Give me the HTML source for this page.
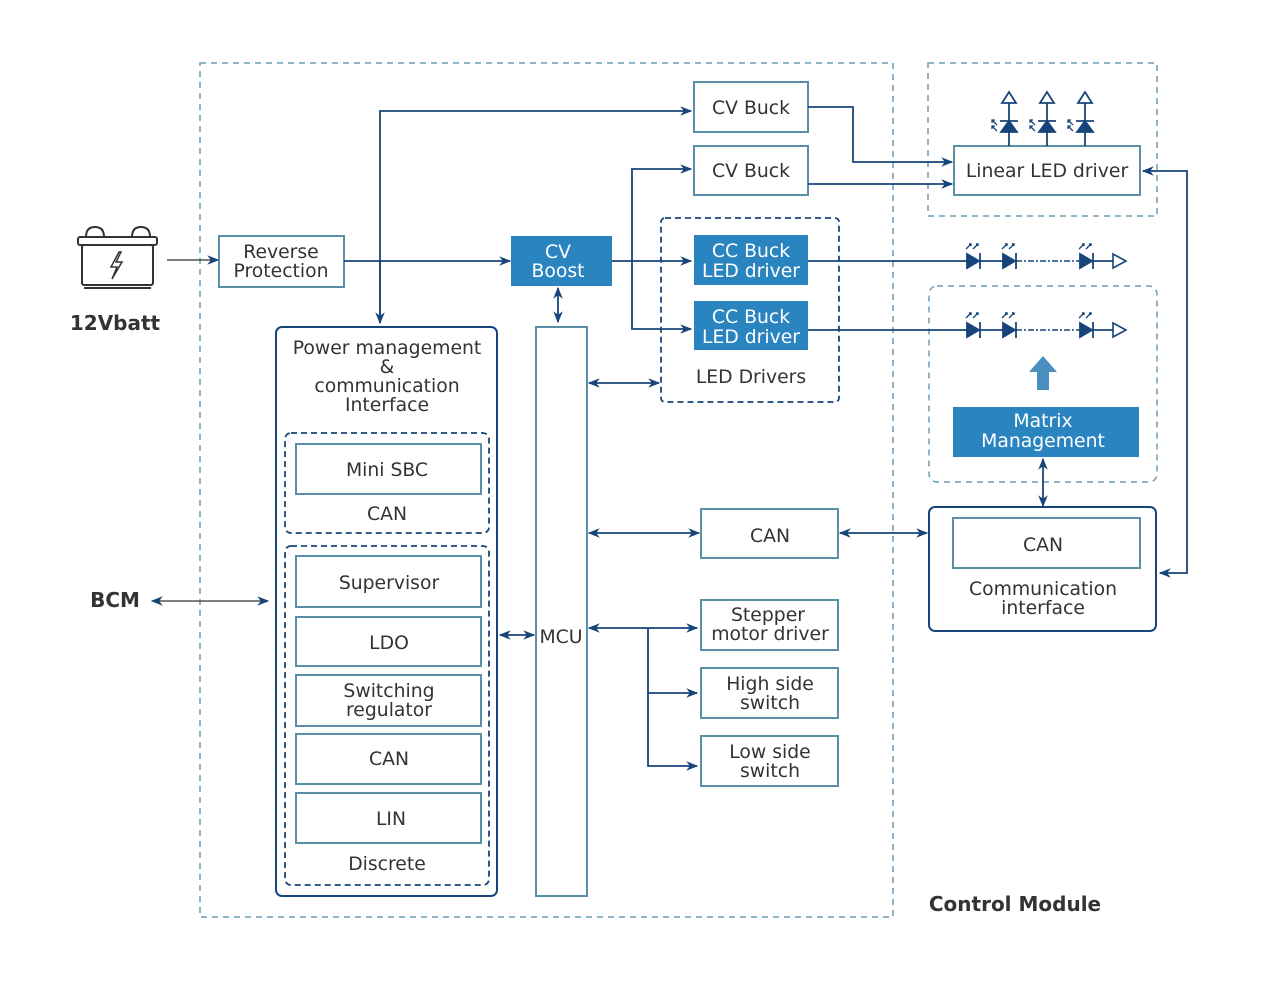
<!DOCTYPE html>
<html><head><meta charset="utf-8"><style>
html,body{margin:0;padding:0;background:#fff;}
svg text{font-family:"DejaVu Sans","Liberation Sans",sans-serif;fill:#333;font-size:18.8px;text-anchor:middle;}
</style></head><body>
<svg width="1266" height="979" viewBox="0 0 1266 979" xmlns="http://www.w3.org/2000/svg">
<defs>
<marker id="a" viewBox="0 0 10 10" refX="9" refY="5" markerWidth="12" markerHeight="12" orient="auto-start-reverse" markerUnits="userSpaceOnUse"><path d="M0,1 L10,5 L0,9 L3,5 Z" fill="#17457a"/></marker>
</defs>
<g fill="none" stroke="#6e9cb5" stroke-width="1.5" stroke-dasharray="6,5">
<rect x="200" y="63" width="693" height="854"/>
<rect x="928" y="63" width="229" height="153"/>
<rect x="929" y="286" width="228" height="196" rx="8"/>
</g>
<g fill="none" stroke="#17457a" stroke-width="1.8" stroke-dasharray="6,4">
<rect x="661" y="218" width="178" height="184" rx="4"/>
<rect x="285" y="433" width="204" height="100" rx="6"/>
<rect x="285" y="546" width="204" height="339" rx="6"/>
</g>
<g fill="#fff" stroke="#5b8fa8" stroke-width="2">
<rect x="694" y="82" width="114" height="50"/>
<rect x="694" y="146" width="114" height="49"/>
<rect x="954" y="146" width="186" height="49"/>
<rect x="219" y="236" width="125" height="51"/>
<rect x="536" y="327" width="51" height="569"/>
<rect x="296" y="444" width="185" height="50"/>
<rect x="296" y="556" width="185" height="51"/>
<rect x="296" y="617" width="185" height="49"/>
<rect x="296" y="675" width="185" height="51"/>
<rect x="296" y="734" width="185" height="50"/>
<rect x="296" y="793" width="185" height="50"/>
<rect x="701" y="509" width="137" height="49"/>
<rect x="953" y="518" width="187" height="50"/>
<rect x="701" y="600" width="137" height="50"/>
<rect x="701" y="668" width="137" height="50"/>
<rect x="701" y="736" width="137" height="50"/>
</g>
<g fill="none" stroke="#17457a" stroke-width="2">
<rect x="276" y="327" width="221" height="569" rx="6"/>
<rect x="929" y="507" width="227" height="124" rx="6"/>
</g>
<g fill="#2a84c0">
<rect x="511" y="236" width="101" height="50"/>
<rect x="694" y="235" width="114" height="50"/>
<rect x="694" y="301" width="114" height="49"/>
<rect x="953" y="407" width="186" height="50"/>
<path d="M1037,390 V372 H1029 L1043,356 L1057,372 H1049 V390 Z" fill="#4a8fbf"/>
</g>
<g fill="none" stroke="#17457a" stroke-width="1.8">
<path d="M167,260 H218" stroke="#333" stroke-width="1.3" marker-end="url(#a)"/>
<path d="M344,261 H510" marker-end="url(#a)"/>
<path d="M380,320 V111 H691" marker-end="url(#a)"/>
<path d="M380,260 V323" marker-end="url(#a)"/>
<path d="M808,107 H853 V162 H952" marker-end="url(#a)"/>
<path d="M808,184 H952" marker-end="url(#a)"/>
<path d="M612,261 H691" marker-end="url(#a)"/>
<path d="M691,169 H632 V329 H691" marker-start="url(#a)" marker-end="url(#a)"/>
<path d="M558,288 V322" marker-start="url(#a)" marker-end="url(#a)"/>
<path d="M589,383 H659" marker-start="url(#a)" marker-end="url(#a)"/>
<path d="M808,261 H1113"/>
<path d="M808,330 H1113"/>
<path d="M1143,171 H1187 V573 H1160" marker-start="url(#a)" marker-end="url(#a)"/>
<path d="M1043,459 V506" marker-start="url(#a)" marker-end="url(#a)"/>
<path d="M589,533 H699" marker-start="url(#a)" marker-end="url(#a)"/>
<path d="M840,533 H927" marker-start="url(#a)" marker-end="url(#a)"/>
<path d="M500,635 H534" marker-start="url(#a)" marker-end="url(#a)"/>
<path d="M152,601 H268" stroke="#333" stroke-width="1.3" marker-start="url(#a)" marker-end="url(#a)"/>
<path d="M589,628 H697" marker-start="url(#a)" marker-end="url(#a)"/>
<path d="M648,628 V766 H697" marker-end="url(#a)"/>
<path d="M648,693 H697" marker-end="url(#a)"/>
</g>
<g id="chain">
<rect x="1016" y="259" width="64" height="4" fill="#fff"/>
<path d="M1016,261 H1080" stroke="#17457a" stroke-width="1.6" stroke-dasharray="6,2,2,2"/>
<g fill="#17457a" stroke="#17457a" stroke-width="1.8">
<path d="M967,254 L979,261 L967,268 Z"/><path d="M980,253 V269"/>
<path d="M1003,254 L1015,261 L1003,268 Z"/><path d="M1016,253 V269"/>
<path d="M1080,254 L1092,261 L1080,268 Z"/><path d="M1093,253 V269"/>
</g>
<path d="M1113,254 L1126,261 L1113,268 Z" fill="#fff" stroke="#17457a" stroke-width="1.6"/>
<g stroke="#17457a" stroke-width="1.4" fill="none">
<path d="M966,249 L971,244 M969,244 H971 V246 M973,249 L978,244 M976,244 H978 V246"/>
<path d="M1002,249 L1007,244 M1005,244 H1007 V246 M1009,249 L1014,244 M1012,244 H1014 V246"/>
<path d="M1079,249 L1084,244 M1082,244 H1084 V246 M1086,249 L1091,244 M1089,244 H1091 V246"/>
</g>
</g>
<use href="#chain" transform="translate(0,69)"/>
<g id="ld" stroke="#17457a" stroke-width="1.8">
<path d="M1009,146 V103" fill="none"/>
<path d="M1002,103 L1009,92 L1016,103 Z" fill="#fff"/>
<path d="M1001,132 L1009,121 L1017,132 Z" fill="#17457a"/>
<path d="M1000,121 H1018" fill="none"/>
<path d="M997,125 L992,120 M992,123 V120 H995 M997,131 L992,126 M992,129 V126 H995" fill="none" stroke-width="1.3"/>
</g>
<use href="#ld" transform="translate(38,0)"/>
<use href="#ld" transform="translate(76,0)"/>
<g fill="none" stroke="#333" stroke-width="2">
<rect x="82" y="245" width="71" height="40" rx="2"/>
<rect x="78" y="237" width="79" height="8" rx="2"/>
<path d="M86,237 Q86,227 95,227 Q104,227 104,237 M132,237 Q132,227 141,227 Q150,227 150,237"/>
<path d="M84,288 H151" />
<path d="M119,252 L111,267 H117 L112,279 L122,262 H116 L121,252 Z" stroke-width="1.5"/>
</g>
<text x="751" y="114">CV Buck</text>
<text x="751" y="177">CV Buck</text>
<text x="1047" y="177">Linear LED driver</text>
<text x="281" y="258">Reverse</text>
<text x="281" y="277">Protection</text>
<text x="558" y="258" style="fill:#fff">CV</text>
<text x="558" y="277" style="fill:#fff">Boost</text>
<text x="751" y="257" style="fill:#fff">CC Buck</text>
<text x="751" y="277" style="fill:#fff">LED driver</text>
<text x="751" y="323" style="fill:#fff">CC Buck</text>
<text x="751" y="343" style="fill:#fff">LED driver</text>
<text x="751" y="383">LED Drivers</text>
<text x="1043" y="427" style="fill:#fff">Matrix</text>
<text x="1043" y="447" style="fill:#fff">Management</text>
<text x="387" y="354">Power management</text>
<text x="387" y="373">&amp;</text>
<text x="387" y="392">communication</text>
<text x="387" y="411">Interface</text>
<text x="387" y="476">Mini SBC</text>
<text x="387" y="520">CAN</text>
<text x="389" y="589">Supervisor</text>
<text x="389" y="649">LDO</text>
<text x="389" y="697">Switching</text>
<text x="389" y="716">regulator</text>
<text x="389" y="765">CAN</text>
<text x="391" y="825">LIN</text>
<text x="387" y="870">Discrete</text>
<text x="561" y="643">MCU</text>
<text x="770" y="542">CAN</text>
<text x="1043" y="551">CAN</text>
<text x="1043" y="595">Communication</text>
<text x="1043" y="614">interface</text>
<text x="768" y="621">Stepper</text>
<text x="770" y="640">motor driver</text>
<text x="770" y="690">High side</text>
<text x="770" y="709">switch</text>
<text x="770" y="758">Low side</text>
<text x="770" y="777">switch</text>
<text x="115" y="330" style="font-weight:bold;font-size:20px">12Vbatt</text>
<text x="115" y="607" style="font-weight:bold;font-size:20px">BCM</text>
<text x="1015" y="911" style="font-weight:bold;font-size:20px">Control Module</text>
</svg>
</body></html>
